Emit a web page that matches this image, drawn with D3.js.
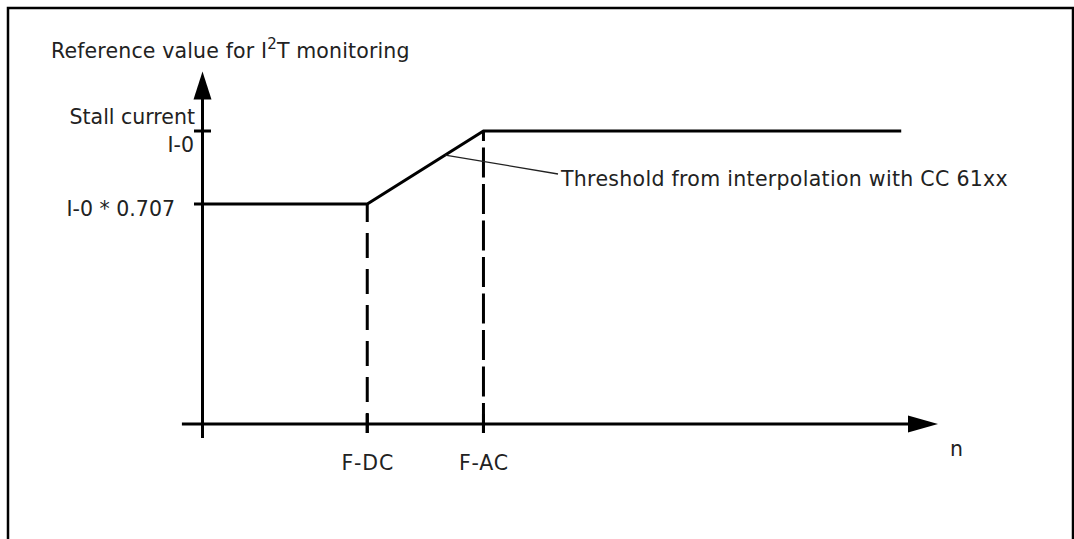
<!DOCTYPE html>
<html>
<head>
<meta charset="utf-8">
<script src="https://cdn.jsdelivr.net/npm/d3@7"></script>
<style>
  body { margin: 0; background: #fff; }
  text { font-family: "DejaVu Sans", sans-serif; font-size: 20.5px; fill: #222; }
</style>
</head>
<body>
<script>
// data (schematic units)
var curveN = [0, 22.4, 38.2, 95];
var curveI = [0.707, 0.707, 1, 1];
var nTickValues = [22.4, 38.2];
var nTickLabels = ["F-DC", "F-AC"];
var iTickValues = [1, 0.707];
var iTickLabels = [["Stall current", "I-0"], ["I-0 * 0.707"]];
var annotN = 33;
var annotText = "Threshold from interpolation with CC 61xx";

var width = 1074, height = 539;
var axisY = 424;
var stroke = 3;

var svg = d3.select("body").append("svg")
    .attr("width", width)
    .attr("height", height);

var x = d3.scaleLinear().domain([0, 100]).range([202.5, 938]);
var y = d3.scaleLinear().domain([0.707, 1]).range([204, 131]);
// piecewise threshold value along n
var iAt = d3.scaleLinear().domain(curveN).range(curveI);

// frame
svg.append("rect")
    .attr("x", 8).attr("y", 8)
    .attr("width", 1065).attr("height", 560)
    .attr("fill", "none")
    .attr("stroke", "black")
    .attr("stroke-width", 2.5);

// title
var title = svg.append("text").attr("x", 51).attr("y", 58).attr("letter-spacing", 0.15);
title.append("tspan").text("Reference value for I");
title.append("tspan").attr("dy", -9).style("font-size", "15px").text("2");
title.append("tspan").attr("dy", 9).text("T monitoring");

// y axis with arrow
svg.append("line")
    .attr("x1", x(0)).attr("x2", x(0))
    .attr("y1", 95).attr("y2", 438)
    .attr("stroke", "black").attr("stroke-width", stroke);
svg.append("path")
    .attr("d", "M" + (x(0) - 9) + ",99.5L" + x(0) + ",71.5L" + (x(0) + 9) + ",99.5Z")
    .attr("fill", "black");

// x axis with arrow
svg.append("line")
    .attr("x1", x(-2.8)).attr("x2", 912)
    .attr("y1", axisY).attr("y2", axisY)
    .attr("stroke", "black").attr("stroke-width", stroke);
svg.append("path")
    .attr("d", "M908," + (axisY - 8.5) + "L" + x(100) + "," + axisY + "L908," + (axisY + 8.5) + "Z")
    .attr("fill", "black");
svg.append("text")
    .attr("x", 950).attr("y", 456)
    .text("n");

// y ticks and labels
iTickValues.forEach(function(v, i) {
  svg.append("line")
      .attr("x1", 194).attr("x2", i === 0 ? 211 : x(0))
      .attr("y1", y(v)).attr("y2", y(v))
      .attr("stroke", "black").attr("stroke-width", stroke);
  var lines = iTickLabels[i];
  if (lines.length === 2) {
    svg.append("text").attr("x", 195).attr("y", y(v) - 7)
        .attr("text-anchor", "end").text(lines[0]);
    svg.append("text").attr("x", 194).attr("y", y(v) + 21)
        .attr("text-anchor", "end").text(lines[1]);
  } else {
    svg.append("text").attr("x", 175).attr("y", y(v) + 12)
        .attr("text-anchor", "end").text(lines[0]);
  }
});

// dashed guides, drawn from below the axis upward
var dashStyles = [{dash: "25,11", offset: 5}, {dash: "30,6.5", offset: 0}];
nTickValues.forEach(function(v, i) {
  svg.append("line")
      .attr("x1", x(v)).attr("x2", x(v))
      .attr("y1", axisY + 9).attr("y2", y(iAt(v)))
      .attr("stroke", "black").attr("stroke-width", stroke)
      .attr("stroke-dasharray", dashStyles[i].dash)
      .attr("stroke-dashoffset", dashStyles[i].offset);
  svg.append("line")
      .attr("x1", x(v)).attr("x2", x(v))
      .attr("y1", axisY - 10).attr("y2", axisY + 9)
      .attr("stroke", "black").attr("stroke-width", stroke);
});

// x tick labels via axis
var xAxis = d3.axisBottom(x)
    .tickValues(nTickValues)
    .tickSize(0)
    .tickPadding(31.5)
    .tickFormat(function(d, i) { return nTickLabels[i]; });
var gx = svg.append("g")
    .attr("transform", "translate(0," + axisY + ")")
    .call(xAxis);
gx.select(".domain").remove();
gx.selectAll("text")
    .attr("fill", "#222")
    .attr("letter-spacing", 0.8)
    .style("font-size", "20.5px")
    .style("font-family", "DejaVu Sans, sans-serif");

// threshold curve
var line = d3.line()
    .x(function(d) { return x(d[0]); })
    .y(function(d) { return y(d[1]); });
svg.append("path")
    .datum(d3.zip(curveN, curveI))
    .attr("d", line)
    .attr("fill", "none")
    .attr("stroke", "black")
    .attr("stroke-width", stroke)
    .attr("stroke-linejoin", "miter");

// annotation leader
svg.append("line")
    .attr("x1", x(annotN)).attr("y1", y(iAt(annotN)))
    .attr("x2", 558).attr("y2", 174)
    .attr("stroke", "#222").attr("stroke-width", 1.3);
svg.append("text")
    .attr("x", 561).attr("y", 186)
    .attr("letter-spacing", 0.3)
    .text(annotText);
</script>
</body>
</html>
